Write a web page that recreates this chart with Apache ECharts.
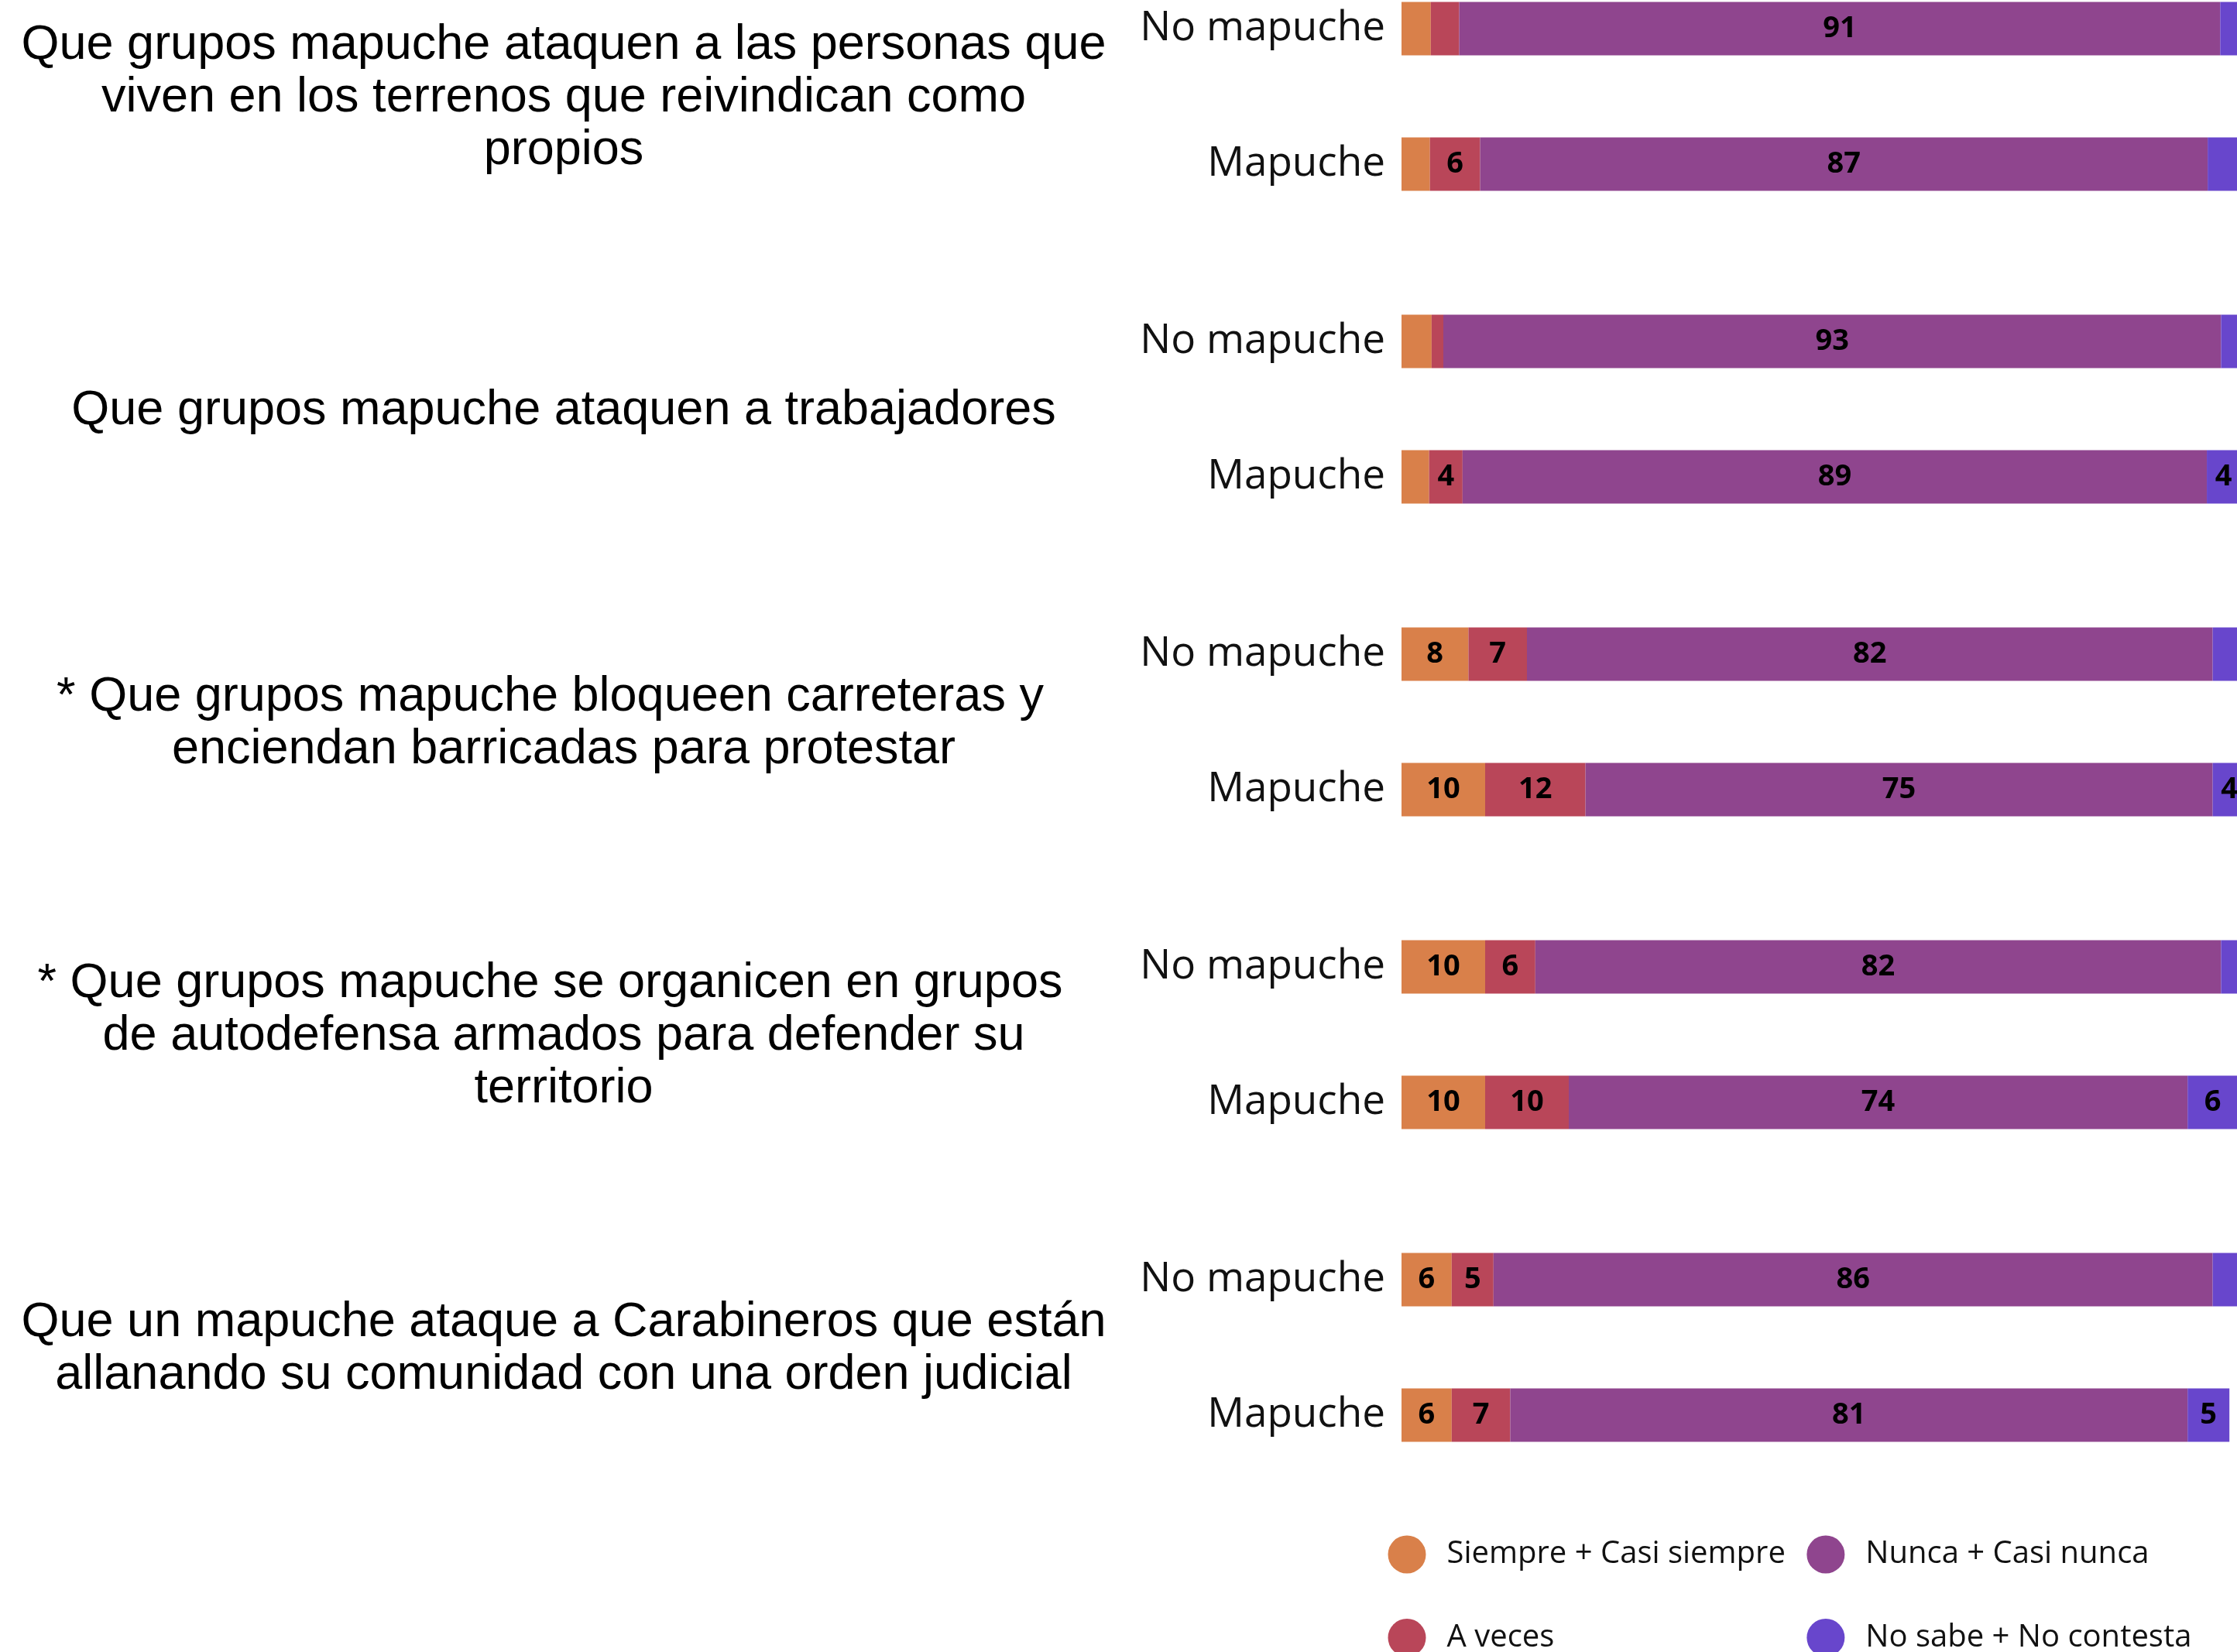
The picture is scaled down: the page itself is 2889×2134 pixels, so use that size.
<!DOCTYPE html>
<html>
<head>
<meta charset="utf-8">
<script src="https://cdn.jsdelivr.net/npm/echarts@6/dist/echarts.min.js"></script>
<style>
  html, body { margin: 0; padding: 0; background: #ffffff; }
  #chart { width: 2889px; height: 2134px; }
</style>
</head>
<body>
<div id="chart"></div>
<script>
// Statements asked about (one block of two bars each)
const questions = [
  'Que grupos mapuche ataquen a las personas que\nviven en los terrenos que reivindican como\npropios',
  'Que grupos mapuche ataquen a trabajadores',
  '* Que grupos mapuche bloqueen carreteras y  \nenciendan barricadas para protestar',
  '* Que grupos mapuche se organicen en grupos  \nde autodefensa armados para defender su\nterritorio',
  'Que un mapuche ataque a Carabineros que están\nallanando su comunidad con una orden judicial'
];

// Respondent groups, top to bottom inside each block
const groups = ['No mapuche', 'Mapuche'];

// Answer categories (stack order, left to right)
const answers = ['Siempre + Casi siempre', 'A veces', 'Nunca + Casi nunca', 'No sabe + No contesta'];

// Percentages, one entry per bar: statement by statement, No mapuche then Mapuche
const siempre = [3.5, 3.4, 3.6, 3.3, 8, 10, 10, 10, 6, 6];
const aVeces  = [3.4, 6, 1.4, 4, 7, 12, 6, 10, 5, 7];
const nunca   = [91, 87, 93, 89, 82, 75, 82, 74, 86, 81];
const noSabe  = [2.1, 3.6, 2, 4, 3, 4, 2, 6, 3, 5];

const answerValues = [siempre, aVeces, nunca, noSabe];
const answerColors = ['#D9804A', '#B94659', '#8F458E', '#6846CC'];

// Block geometry
const FIRST_BAR_CENTER = 37;
const BAND = 175;          // distance between the two bars of a block
const BLOCK_STEP = 404;    // distance between consecutive blocks
const PLOT_LEFT = 1810;
const PLOT_WIDTH = 1080;
const LINE_H = 68;

const grids = [], xAxes = [], yAxes = [], series = [], titles = [];

questions.forEach(function (q, k) {
  const gridTop = FIRST_BAR_CENTER - BAND / 2 + BLOCK_STEP * k;
  grids.push({
    left: PLOT_LEFT, width: PLOT_WIDTH, top: gridTop, height: BAND * groups.length,
    outerBoundsMode: 'none', containLabel: false
  });
  xAxes.push({ type: 'value', gridIndex: k, min: 0, max: 100, show: false });
  yAxes.push({
    type: 'category', gridIndex: k, data: groups, inverse: true,
    axisLine: { show: false }, axisTick: { show: false }, splitLine: { show: false },
    axisLabel: { fontFamily: 'Open Sans', fontSize: 53, color: '#111', margin: 21 }
  });
  titles.push({
    text: q,
    left: 728,
    top: gridTop + BAND + 2,
    textAlign: 'center',
    textVerticalAlign: 'middle',
    padding: 0,
    textStyle: { fontFamily: 'Liberation Sans', fontSize: 63, fontWeight: 'normal', color: '#000', lineHeight: LINE_H }
  });
  answers.forEach(function (name, a) {
    series.push({
      name: name,
      type: 'bar',
      stack: 'block' + k,
      xAxisIndex: k,
      yAxisIndex: k,
      barWidth: 69,
      clip: false,
      itemStyle: { color: answerColors[a] },
      emphasis: { disabled: true },
      label: {
        show: true,
        position: 'inside',
        fontFamily: 'Open Sans',
        fontWeight: 700,
        fontSize: 38,
        color: '#000',
        formatter: function (p) { return p.value >= 4 ? String(Math.round(p.value)) : ''; }
      },
      data: answerValues[a].slice(k * groups.length, (k + 1) * groups.length)
    });
  });
});

const chart = echarts.init(document.getElementById('chart'), null, { renderer: 'canvas' });
chart.setOption({
  backgroundColor: '#ffffff',
  animation: false,
  title: titles,
  grid: grids,
  xAxis: xAxes,
  yAxis: yAxes,
  legend: {
    data: answers,
    orient: 'vertical',
    left: 1792.5,
    top: 1968,
    height: 200,
    padding: 0,
    icon: 'circle',
    itemWidth: 49,
    itemHeight: 49,
    itemGap: 27.5,
    selectedMode: false,
    textStyle: { fontFamily: 'Open Sans', fontSize: 40, color: '#111', lineHeight: 80, padding: [0, 0, 0, 22] }
  },
  series: series
});
</script>
</body>
</html>
